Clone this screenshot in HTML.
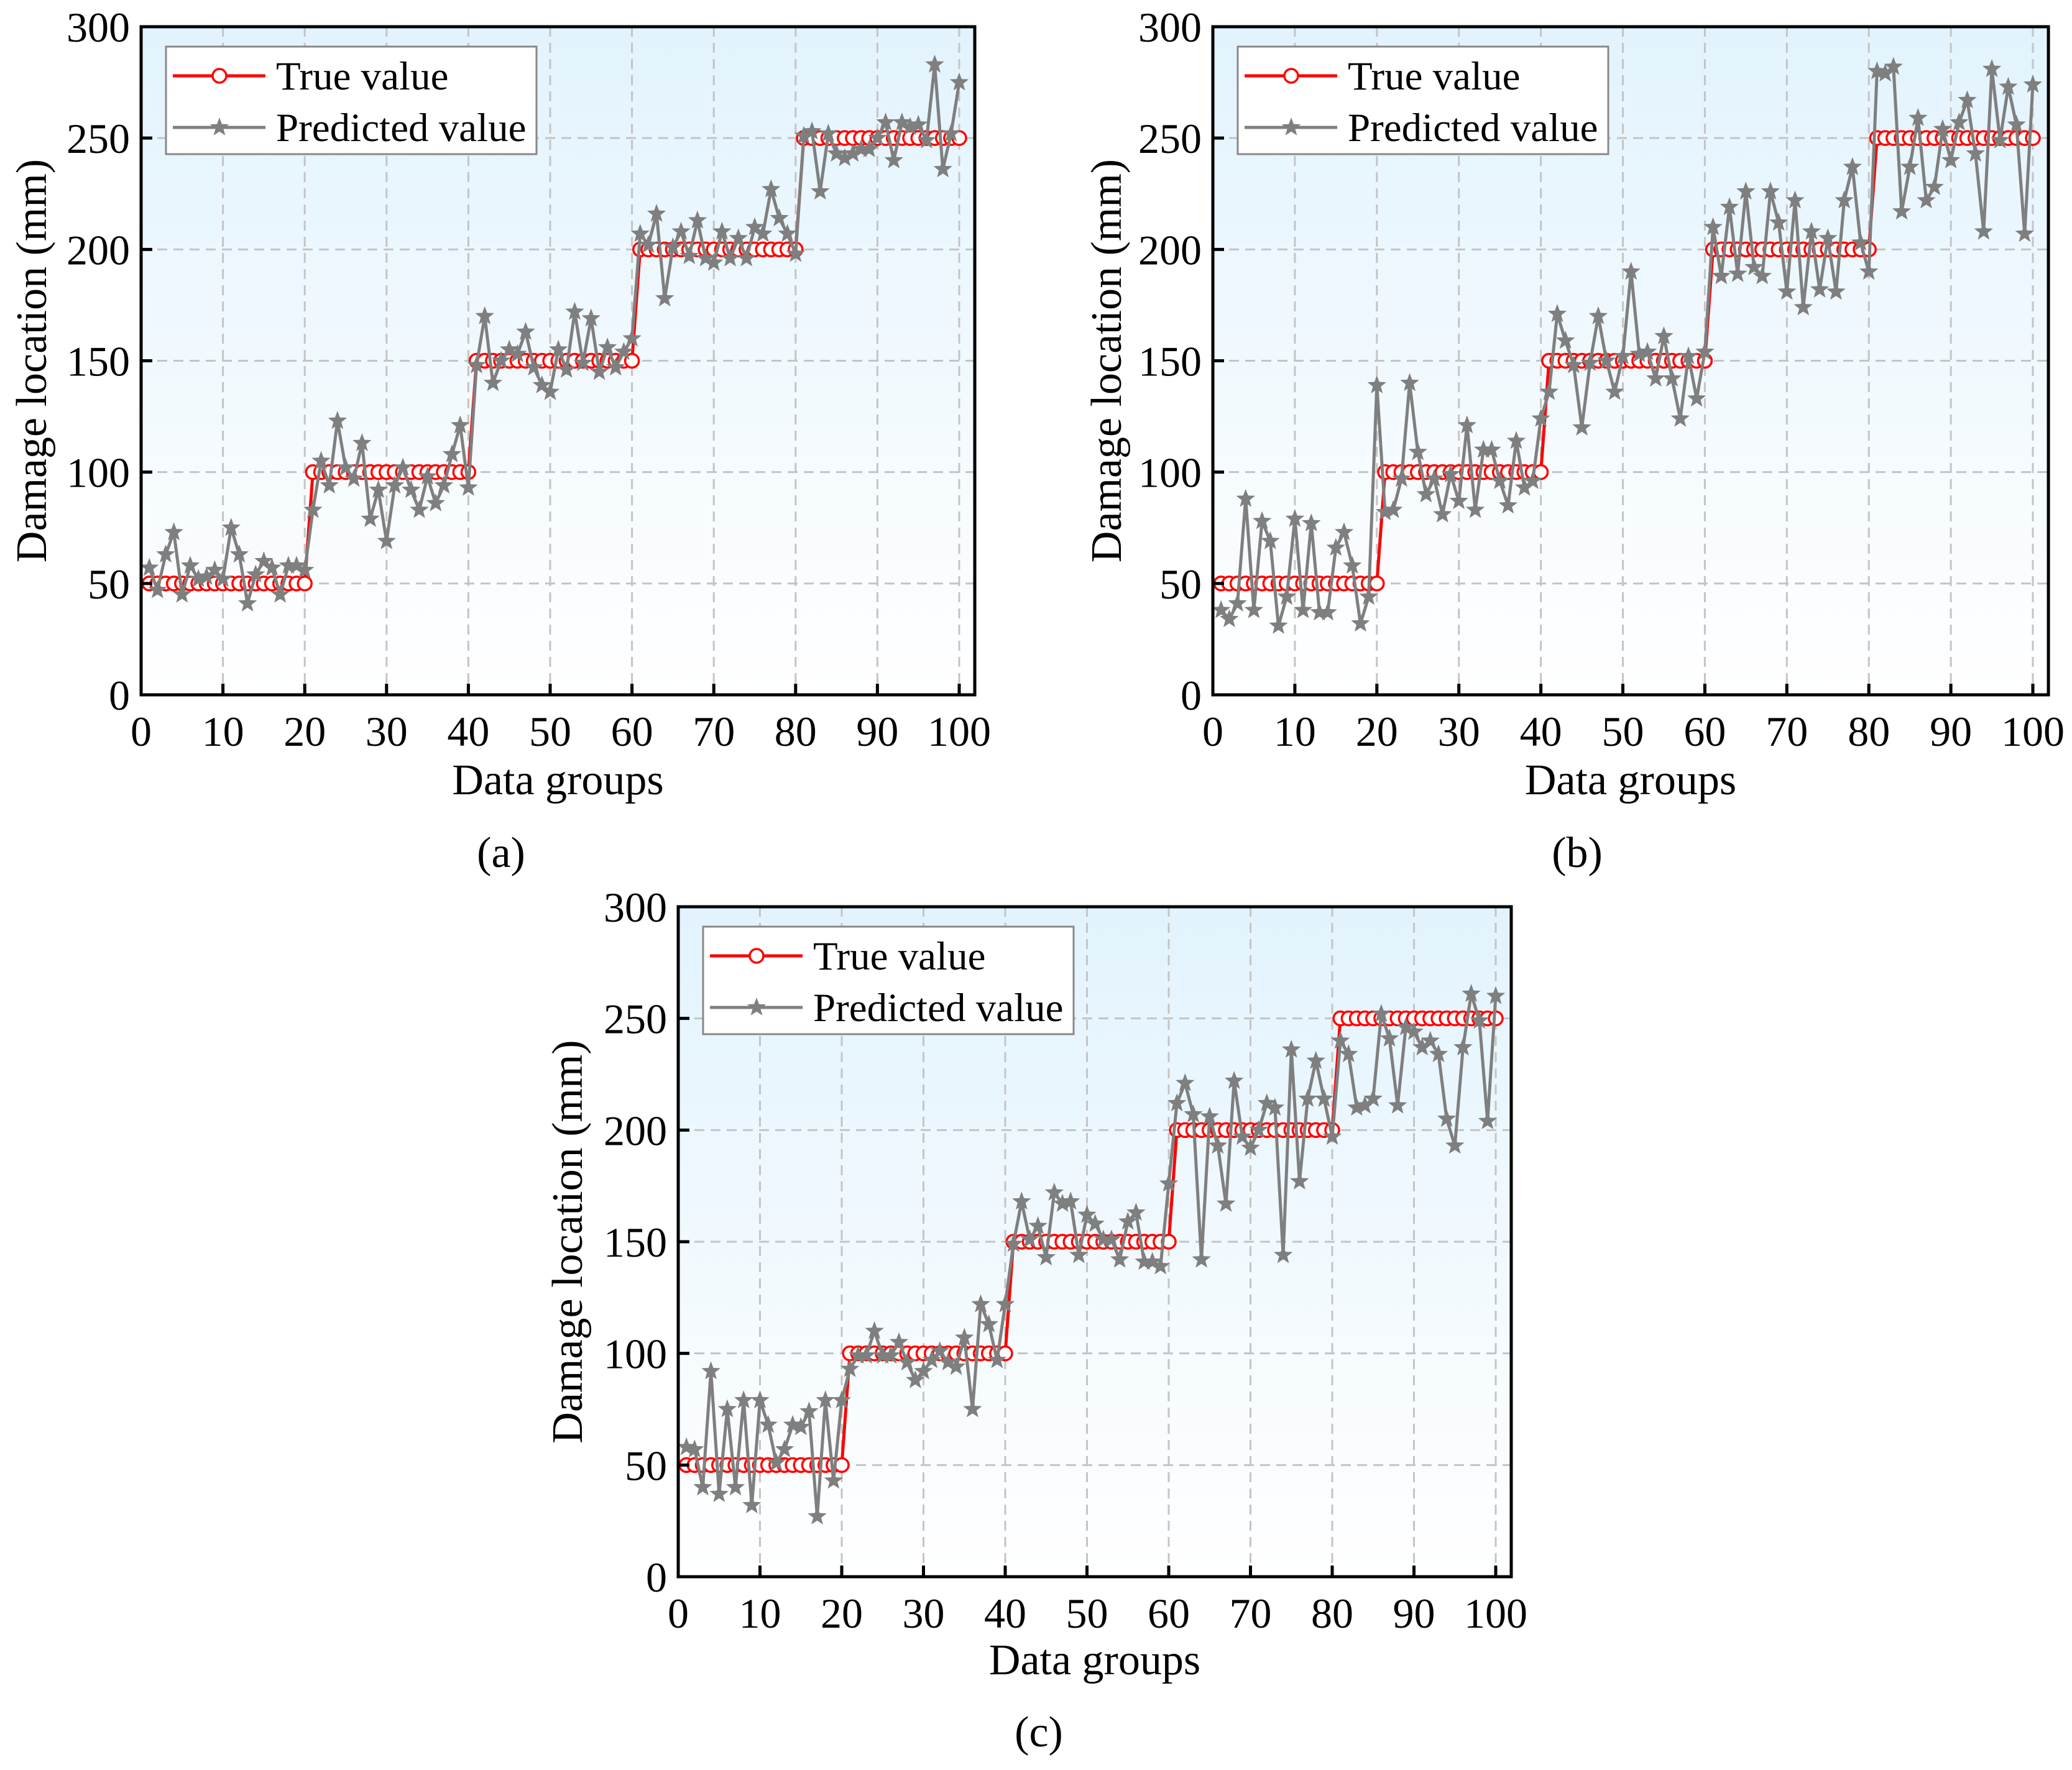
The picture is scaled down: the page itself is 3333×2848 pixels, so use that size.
<!DOCTYPE html>
<html><head><meta charset="utf-8">
<style>
html,body{margin:0;padding:0;background:#fff;}
svg{display:block;font-family:"Liberation Serif",serif;}
</style></head>
<body>
<svg id="fig" width="3333" height="2848" viewBox="0 0 3333 2848" xmlns="http://www.w3.org/2000/svg">
<defs>
<linearGradient id="bg" x1="0" y1="0" x2="0" y2="1">
<stop offset="0" stop-color="#e2f3fd"/>
<stop offset="1" stop-color="#ffffff"/>
</linearGradient>
</defs>
</svg>
<script>
const categories = Array.from({length:100},(_,i)=>i+1);
const trueValues = categories.map(i=>50*Math.ceil(i/20));
const predA = [57,47,63,73,45,58,52,53,56,52,75,63,41,54,60,57,45,58,58,56,
83,105,94,123,102,97,113,79,92,69,94,102,92,83,98,86,94,108,121,93,
148,170,140,150,155,153,163,147,139,136,155,146,172,149,169,145,156,147,154,160,
207,202,216,178,201,208,197,213,196,194,208,196,205,196,210,207,227,214,207,198,
251,253,226,252,243,241,243,245,245,250,257,240,257,255,256,249,283,236,252,275];
const predB = [38,34,41,88,38,78,69,31,44,79,38,77,37,37,66,73,58,32,44,139,
82,83,97,140,109,90,97,81,99,87,121,83,110,110,96,85,114,93,96,124,
136,171,159,148,120,149,170,150,136,152,190,153,154,142,161,142,124,152,133,154,
210,188,219,189,226,192,188,226,212,181,222,174,208,182,205,181,222,237,203,190,
280,279,282,217,237,259,222,228,254,240,257,267,243,208,281,249,273,256,207,274];
const predC = [58,57,40,92,37,75,40,79,32,79,68,51,57,68,67,74,27,79,43,79,
93,99,99,110,99,99,105,96,88,92,97,101,96,94,107,75,122,113,97,122,
149,168,151,157,143,172,167,168,144,162,158,151,151,142,159,163,141,141,139,176,
212,221,207,142,206,193,167,222,197,192,200,212,210,144,236,177,214,231,214,197,
240,234,210,211,214,252,241,211,246,244,237,240,234,205,193,237,261,249,204,260];
const xTicks = [0,10,20,30,40,50,60,70,80,90,100];
const yTicks = [0,50,100,150,200,250,300];

const NS="http://www.w3.org/2000/svg";
const svg=document.getElementById('fig');
function mk(tag,attrs,parent){const e=document.createElementNS(NS,tag);for(const k in attrs)e.setAttribute(k,attrs[k]);(parent||svg).appendChild(e);return e;}
function starPath(cx,cy,R){const r=R*0.42;let d='';for(let i=0;i<10;i++){const a=-Math.PI/2+i*Math.PI/5;const rr=i%2?r:R;d+=(i?'L':'M')+(cx+rr*Math.cos(a)).toFixed(1)+' '+(cy+rr*Math.sin(a)).toFixed(1);}return d+'Z';}

const panels=[
 {id:'a',x0:227,x100:1543,top:43,bot:1118,pred:predA,lab:'(a)',labX:806,labY:1395,ytX:58,xtY:1278},
 {id:'b',x0:1951,x100:3270,top:43,bot:1118,pred:predB,lab:'(b)',labX:2537,labY:1395,ytX:1787,xtY:1278},
 {id:'c',x0:1091,x100:2406,top:1459,bot:2537,pred:predC,lab:'(c)',labX:1671,labY:2810,ytX:920,xtY:2694}
];

panels.forEach(p=>{
 const g=mk('g',{});
 
 
 const sx=v=>p.x0+(p.x100-p.x0)*v/100;
 const sy=v=>p.bot-(p.bot-p.top)*v/300;
 const right=sx(101.9);
 const bgR=mk('rect',{x:p.x0,y:p.top,width:right-p.x0,height:p.bot-p.top,fill:'url(#bg)'},g);
 
 
 xTicks.forEach(t=>{if(t>0){const l=mk('line',{x1:sx(t),x2:sx(t),y1:p.top,y2:p.bot,stroke:'#c4c4c4','stroke-width':3,'stroke-dasharray':'16 10'},g);
  
  }});
 yTicks.forEach(t=>{if(t>0&&t<300){const l=mk('line',{x1:p.x0,x2:right,y1:sy(t),y2:sy(t),stroke:'#c4c4c4','stroke-width':3,'stroke-dasharray':'16 10'},g);
  
  }});
 const tl=mk('polyline',{points:categories.map((c,i)=>sx(c)+','+sy(trueValues[i])).join(' '),fill:'none',stroke:'#ff0000','stroke-width':5},g);
 
 
 categories.forEach((c,i)=>{const m=mk('circle',{cx:sx(c),cy:sy(trueValues[i]),r:11,fill:'#fff',stroke:'#ff0000','stroke-width':3.5},g);
  
  });
 const pl=mk('polyline',{points:categories.map((c,i)=>sx(c)+','+sy(p.pred[i])).join(' '),fill:'none',stroke:'#7f7f7f','stroke-width':5},g);
 
 
 categories.forEach((c,i)=>{const m=mk('path',{d:starPath(sx(c),sy(p.pred[i]),16),fill:'#7f7f7f'},g);
  
  });
 const fr=mk('rect',{x:p.x0,y:p.top,width:right-p.x0,height:p.bot-p.top,fill:'none',stroke:'#000','stroke-width':5},g);
 
 
 xTicks.forEach(t=>{
  const l=mk('line',{x1:sx(t),x2:sx(t),y1:p.bot,y2:p.bot-18,stroke:'#000','stroke-width':5},g);
  
  
  const tx=mk('text',{x:sx(t),y:p.bot+82,'font-size':68,'text-anchor':'middle',fill:'#000'},g);
  tx.textContent=t;
  
  
 });
 yTicks.forEach(t=>{
  const l=mk('line',{x1:p.x0,x2:p.x0+18,y1:sy(t),y2:sy(t),stroke:'#000','stroke-width':5},g);
  
  
  const tx=mk('text',{x:p.x0-18,y:sy(t)+24,'font-size':68,'text-anchor':'end',fill:'#000'},g);
  tx.textContent=t;
  
  
 });
 const cy=(p.top+p.bot)/2;
 const yt=mk('text',{x:p.ytX,y:cy,'font-size':70,'text-anchor':'middle',transform:'rotate(-90 '+p.ytX+' '+cy+')',fill:'#000','dominant-baseline':'middle'},g);
 yt.textContent='Damage location (mm)';
 
 
 const xt=mk('text',{x:(p.x0+right)/2,y:p.xtY,'font-size':70,'text-anchor':'middle',fill:'#000'},g);
 xt.textContent='Data groups';
 
 
 const lb=mk('text',{x:p.labX,y:p.labY,'font-size':70,'text-anchor':'middle',fill:'#000'},g);
 lb.textContent=p.lab;
 
 
 const lg=mk('g',{},g);
 
 
 const bx=p.x0+40, by=p.top+32;
 mk('rect',{x:bx,y:by,width:596,height:173,fill:'#fff',stroke:'#888','stroke-width':3},lg);
 const e1=mk('g',{},lg);
 
 
 mk('line',{x1:bx+11,x2:bx+160,y1:by+47,y2:by+47,stroke:'#ff0000','stroke-width':5},e1);
 mk('circle',{cx:bx+86,cy:by+47,r:11,fill:'#fff',stroke:'#ff0000','stroke-width':3.5},e1);
 const t1=mk('text',{x:bx+177,y:by+69,'font-size':65,fill:'#000'},e1);t1.textContent='True value';
 const e2=mk('g',{},lg);
 
 
 mk('line',{x1:bx+11,x2:bx+160,y1:by+130,y2:by+130,stroke:'#7f7f7f','stroke-width':5},e2);
 mk('path',{d:starPath(bx+86,by+130,16),fill:'#7f7f7f'},e2);
 const t2=mk('text',{x:bx+177,y:by+152,'font-size':65,fill:'#000'},e2);t2.textContent='Predicted value';
});
</script>
</body></html>
